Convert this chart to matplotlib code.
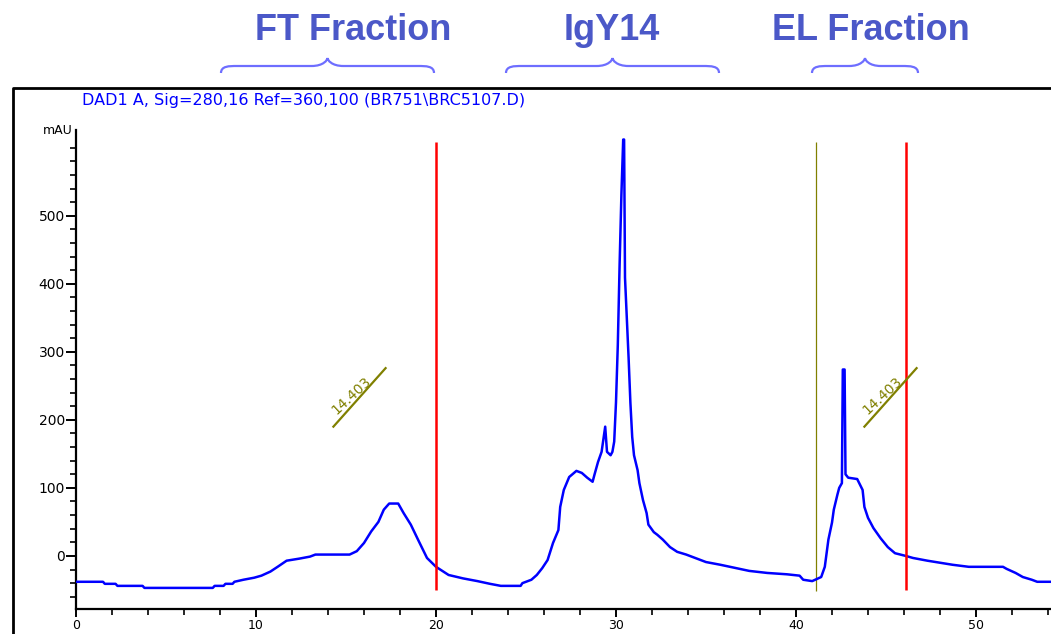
import matplotlib.pyplot as plt
from matplotlib.path import Path
from matplotlib.patches import PathPatch

# chromatogram trace (retention time in min, signal in mAU)
time = [0.0, 1.5, 1.6, 2.2, 2.3, 3.7, 3.8, 7.6, 7.7, 8.2, 8.3, 8.7, 8.8, 9.3, 9.9,
        10.3, 10.8, 11.2, 11.7, 12.4, 13.0, 13.3, 15.2, 15.6, 16.0, 16.4, 16.8, 17.1,
        17.4, 17.9, 18.2, 18.6, 19.0, 19.5, 20.0, 20.7, 21.5, 22.3, 23.0, 23.6, 24.7,
        24.8, 25.3, 25.6, 25.9, 26.2, 26.5, 26.8, 26.9, 27.1, 27.4, 27.8, 28.1, 28.4,
        28.7, 28.8, 29.0, 29.2, 29.3, 29.4, 29.5, 29.7, 29.8, 29.9, 30.0, 30.1, 30.2,
        30.3, 30.4, 30.45, 30.5, 30.7, 30.8, 30.9, 31.0, 31.2, 31.3, 31.5, 31.7, 31.8,
        32.1, 32.3, 32.6, 33.0, 33.4, 33.9, 34.4, 35.0, 35.8, 36.7, 37.4, 38.4, 39.5,
        40.2, 40.4, 40.9, 41.4, 41.6, 41.7, 41.8, 42.0, 42.1, 42.3, 42.4, 42.55, 42.6,
        42.7, 42.75, 42.9, 43.4, 43.7, 43.8, 44.0, 44.3, 44.7, 45.1, 45.5, 46.1, 46.5,
        47.3, 48.0, 48.7, 49.6, 51.5, 51.7, 52.2, 52.6, 53.1, 53.4, 54.2]
signal = [-38, -38, -41, -41, -44, -44, -47, -47, -44, -44, -41, -41, -38, -35, -32,
          -29, -23, -16, -7, -4, -1, 2, 2, 7, 19, 36, 50, 68,
          77, 77, 63, 46, 24, -3, -16, -28, -33, -37, -41, -44, -44,
          -40, -35, -28, -18, -6, 19, 38, 72, 97, 116, 125, 122, 115,
          109, 119, 138, 153, 171, 190, 153, 148, 153, 168, 226, 310, 428,
          531, 612, 612, 409, 291, 225, 175, 148, 126, 107, 82, 63, 46,
          35, 31, 24, 13, 6, 2, -3, -9, -13, -18, -22, -25, -27,
          -29, -35, -37, -31, -16, 4, 24, 49, 68, 90, 100, 107, 274,
          274, 120, 115, 113, 97, 72, 56, 41, 26, 13, 4, 0, -3,
          -7, -10, -13, -16, -16, -19, -25, -31, -35, -38, -38]

cut_times = [20.0, 46.1]      # fraction cuts (red)
start_time = 41.1             # event marker (olive)
event_label = '14.403'
event_pos = [(15.3, 236), (44.8, 236)]

fractions = ['FT Fraction', 'IgY14', 'EL Fraction']
title_x = [353, 612, 871]                                  # pixels
brace_span = [(221, 434), (506, 719), (812, 918)]          # pixels

fig = plt.figure(figsize=(10.51, 6.34), dpi=100)
ax = fig.add_axes([76 / 1051, 25 / 634, 975 / 1051, 479 / 634])

ax.plot(time, signal, color='#0000ff', lw=1.8, zorder=3)
ax.vlines(cut_times, -50, 609, color='#ff0000', lw=1.8, zorder=4)
ax.vlines([start_time], -52, 609, color='#808000', lw=0.9, zorder=2)

for x, y in event_pos:
    ax.text(x, y, event_label, rotation=43, color='#808000', fontsize=10,
            ha='center', va='center', zorder=5)
    ax.plot([x - 1.0, x + 1.9], [y - 46, y + 40], color='#808000', lw=1.6, zorder=5)

ax.set_xlim(0, 975 / 18)
ax.set_ylim(-78, 626)
ax.spines['top'].set_visible(False)
ax.spines['right'].set_visible(False)
ax.spines['left'].set_linewidth(1.6)
ax.spines['bottom'].set_linewidth(1.6)
ax.set_xticks(range(0, 60, 10))
ax.set_xticks(range(0, 56, 2), minor=True)
ax.set_yticks(range(0, 600, 100))
ax.set_yticks(range(-60, 620, 20), minor=True)
ax.tick_params(which='major', length=7, width=1.4, labelsize=10, pad=5)
ax.tick_params(which='minor', length=4, width=1.2)
ax.tick_params(axis='y', which='major', pad=1)
ax.tick_params(axis='x', which='major', length=6, labelsize=9, pad=1)
ax.text(-0.2, 626, 'mAU', ha='right', va='center', fontsize=9)

# page decorations in pixel coordinates
over = fig.add_axes([0, 0, 1, 1])
over.set_xlim(0, 1051)
over.set_ylim(634, 0)
over.axis('off')
over.plot([13, 13, 1051], [634, 88, 88], color='black', lw=2)
over.text(82, 101, 'DAD1 A, Sig=280,16 Ref=360,100 (BR751\\BRC5107.D)',
          color='#0000ff', fontsize=11.5, va='center', ha='left')

for name, tx, (x0, x1) in zip(fractions, title_x, brace_span):
    over.text(tx, 40.5, name, ha='center', va='baseline', fontsize=26,
              fontweight='bold', family='Liberation Sans', color='#4b58c8')
    xc = (x0 + x1) / 2
    yt, ym, yb = 58, 66, 73
    verts = [(x0, yb), (x0, ym), (x0 + 8, ym), (x0 + 16, ym),
             (xc - 16, ym), (xc - 4, ym), (xc, yt + 2), (xc, yt),
             (xc, yt + 2), (xc + 4, ym), (xc + 16, ym),
             (x1 - 16, ym), (x1 - 8, ym), (x1, ym), (x1, yb)]
    codes = [Path.MOVETO, Path.CURVE4, Path.CURVE4, Path.CURVE4,
             Path.LINETO, Path.CURVE4, Path.CURVE4, Path.CURVE4,
             Path.CURVE4, Path.CURVE4, Path.CURVE4,
             Path.LINETO, Path.CURVE4, Path.CURVE4, Path.CURVE4]
    over.add_patch(PathPatch(Path(verts, codes), fill=False, color='#6e6eff', lw=1.6))

fig.savefig('out.png', dpi=100)
